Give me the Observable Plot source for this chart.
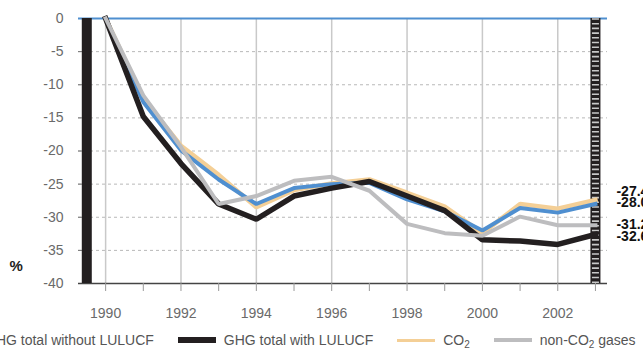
<!DOCTYPE html>
<html>
<head>
<meta charset="utf-8">
<script src="https://cdn.jsdelivr.net/npm/d3@7"></script>
<script src="https://cdn.jsdelivr.net/npm/@observablehq/plot@0.6"></script>
<style>
  html, body { margin: 0; padding: 0; background: #fff; overflow: hidden; width: 643px; height: 354px; }
  #legend { display: flex; align-items: center; white-space: nowrap; margin-left: -61px; height: 20px; line-height: 20px;
    font-family: "Liberation Sans", Arial, sans-serif; font-size: 14px; color: #555; }
  #legend .item { display: flex; align-items: center; margin-right: 24px; }
  #legend .sw { display: inline-block; width: 38px; margin-right: 8px; }
  #legend sub { font-size: 10px; line-height: 0; vertical-align: -3px; }
</style>
</head>
<body>
<div id="chart"></div>
<div id="legend"></div>
<script>
const years = [1990,1991,1992,1993,1994,1995,1996,1997,1998,1999,2000,2001,2002,2003];
const labelYears = [1990,1992,1994,1996,1998,2000,2002];
const yTicks = [0,-5,-10,-15,-20,-25,-30,-35,-40];
const yGrid = [-5,-10,-15,-20,-25,-30,-35];
const ghgWithout = [0,-12.6,-19.9,-24.3,-28.0,-25.6,-25.0,-24.8,-27.3,-29.1,-32.0,-28.6,-29.3,-28.0];
const ghgWith    = [0,-14.8,-21.9,-28.0,-30.3,-26.8,-25.6,-24.6,-26.8,-29.0,-33.4,-33.6,-34.1,-32.6];
const co2        = [0,-12.1,-19.2,-23.6,-28.5,-25.9,-24.9,-24.3,-26.3,-28.4,-32.4,-28.0,-28.7,-27.4];
const nonCo2     = [0,-11.6,-19.4,-28.0,-26.8,-24.5,-23.9,-26.0,-31.0,-32.4,-32.8,-29.9,-31.2,-31.2];
const endLabels  = ["-27.4","-28.0","-31.2","-32.6"];
const baseYear = 1989.5;

const colors = {"GHG total without LULUCF":"#4f8fd0","GHG total with LULUCF":"#231f20","CO2":"#f4cf96","non-CO2 gases":"#bdbdbf"};
const widths = {"GHG total without LULUCF":4,"GHG total with LULUCF":5.5,"CO2":4.5,"non-CO2 gases":4};
const seriesValues = {"GHG total without LULUCF":ghgWithout,"GHG total with LULUCF":ghgWith,"CO2":co2,"non-CO2 gases":nonCo2};
const table = s => years.map((yr,i)=>({year: yr, value: seriesValues[s][i]}));

const drawOrder = ["CO2","GHG total without LULUCF","GHG total with LULUCF","non-CO2 gases"];
const lastYear = years[years.length-1];
const labelSeries = ["CO2","GHG total without LULUCF","non-CO2 gases","GHG total with LULUCF"];
const labelDy = [-9, -1, -1, 2];

const chart = Plot.plot({
  width: 643, height: 330,
  marginTop: 18, marginLeft: 78, marginRight: 36, marginBottom: 47,
  style: {fontFamily: "Liberation Sans, Arial, sans-serif", fontSize: "14px", background: "#fff", overflow: "visible"},
  x: {domain: [1989.28, 2003.32]},
  y: {domain: [-40, 0]},
  marks: [
    Plot.gridY(yGrid, {stroke: "#b8b8b8", strokeOpacity: 1, strokeDasharray: "3,3"}),
    Plot.gridX(labelYears, {stroke: "#c9c9c9", strokeOpacity: 1, strokeWidth: 1.5}),
    Plot.axisY(yGrid, {tickSize: -6, tickPadding: 0, tickFormat: () => "", stroke: "#777", label: null}),
    Plot.ruleY([0], {stroke: colors["GHG total without LULUCF"], strokeWidth: 2}),
    Plot.ruleY([-40], {stroke: "#444", strokeWidth: 1.5}),
    Plot.axisX(years, {tickSize: 8, tickFormat: () => "", stroke: "#999", label: null}),
    Plot.axisX(labelYears, {tickSize: 0, tickPadding: 25, tickFormat: d => String(d), fill: "#6a6a6a", label: null}),
    Plot.axisY(yTicks, {tickSize: 0, tickPadding: 15, tickFormat: d => String(d), fill: "#6a6a6a", label: null}),
    Plot.ruleX([baseYear], {y1: -40, y2: 0, stroke: "#231f20", strokeWidth: 10}),
    Plot.ruleX([lastYear], {y1: -40, y2: 0, stroke: "#231f20", strokeWidth: 10}),
    Plot.ruleX([lastYear], {y1: -40, y2: 0, stroke: "#c8c8c8", strokeWidth: 7, strokeDasharray: "1.6,3.1"}),
    ...drawOrder.map(s => Plot.line(table(s), {x: "year", y: "value", stroke: colors[s], strokeWidth: widths[s], strokeLinejoin: "miter", strokeLinecap: "square"})),
    ...labelSeries.map((s,i) => Plot.text([{year: lastYear, value: seriesValues[s][years.length-1], label: endLabels[i]}],
      {x: "year", y: "value", text: "label", textAnchor: "start", dx: 21, dy: labelDy[i], fontWeight: "bold", fontSize: 14, fill: "#111"})),
    Plot.text(["%"], {frameAnchor: "bottom-left", dx: -69, dy: -13, fontWeight: "bold", fontSize: 15, fill: "#222"})
  ]
});
document.getElementById("chart").appendChild(chart);

const legendSpec = [
  {name: "GHG total without LULUCF", html: "GHG total without LULUCF", h: 4},
  {name: "GHG total with LULUCF", html: "GHG total with LULUCF", h: 6},
  {name: "CO2", html: "CO<sub>2</sub>", h: 3},
  {name: "non-CO2 gases", html: "non-CO<sub>2</sub> gases", h: 4}
];
const legend = document.getElementById("legend");
legendSpec.forEach(it => {
  const d = document.createElement("div");
  d.className = "item";
  d.innerHTML = `<span class="sw" style="height:${it.h}px;background:${colors[it.name]}"></span><span>${it.html}</span>`;
  legend.appendChild(d);
});
</script>
</body>
</html>
